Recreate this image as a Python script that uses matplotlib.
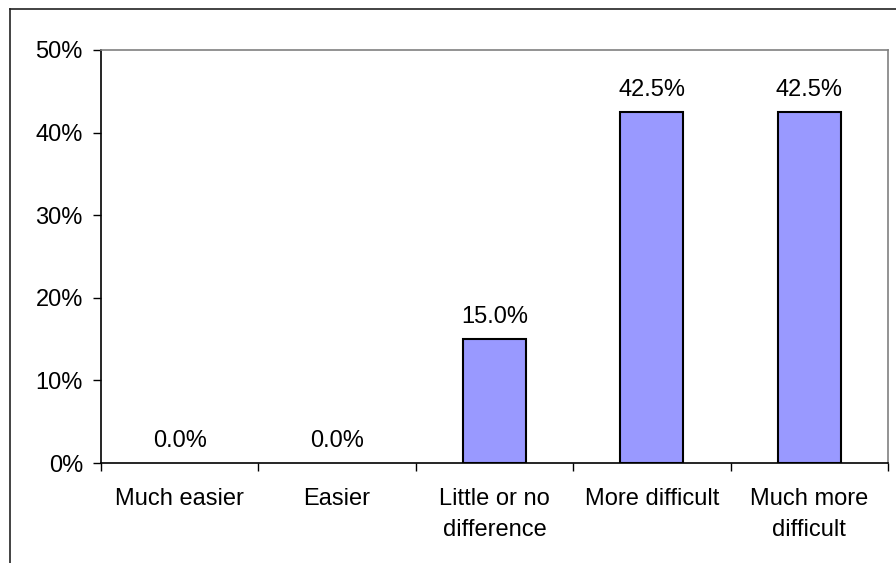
import matplotlib.pyplot as plt
from matplotlib.lines import Line2D

plt.rcParams['font.family'] = ['Liberation Sans', 'DejaVu Sans']

categories = ["Much easier", "Easier", "Little or no\ndifference", "More difficult", "Much more\ndifficult"]
values = [0.0, 0.0, 15.0, 42.5, 42.5]
yticks = [0, 10, 20, 30, 40, 50]

fig = plt.figure(figsize=(8.96, 5.63), dpi=100)
ax = fig.add_axes([101 / 896, 1 - 463 / 563, 787 / 896, 413 / 563])

x = list(range(len(categories)))
bars = ax.bar(x, values, width=0.4, color="#9999FF", edgecolor="black", linewidth=1.5, zorder=3)
# empty bars get no outline
for b, v in zip(bars, values):
    if v == 0:
        b.set_linewidth(0)
ax.bar_label(bars, labels=[f"{v:.1f}%" for v in values], padding=8, fontsize=17)

ax.set_xlim(-0.5, len(categories) - 0.5)
ax.set_ylim(0, 50)
ax.set_yticks(yticks)
ax.set_yticklabels([f"{t}%" for t in yticks], fontsize=17)

# category labels in the middle, tick marks on the boundaries
ax.set_xticks(x)
ax.set_xticklabels(categories, fontsize=17, linespacing=1.5)
ax.set_xticks([i - 0.5 for i in range(len(categories) + 1)], minor=True)
ax.tick_params(axis="x", which="major", length=0, pad=18)
ax.tick_params(axis="x", which="minor", length=6, width=1, direction="out")
ax.tick_params(axis="y", length=6, width=1, direction="out", pad=7)

ax.spines["left"].set_color("black")
ax.spines["bottom"].set_color("black")
ax.spines["top"].set_color("#808080")
ax.spines["right"].set_color("#808080")
for s in ax.spines.values():
    s.set_linewidth(1.2)

# outer chart frame, cut off on the right and bottom
fig.add_artist(Line2D([10 / 896, 1], [1 - 9 / 563, 1 - 9 / 563], color="#222222", lw=1.2))
fig.add_artist(Line2D([10 / 896, 10 / 896], [0, 1 - 9 / 563], color="#222222", lw=1.2))

fig.savefig("out.png", dpi=100)
